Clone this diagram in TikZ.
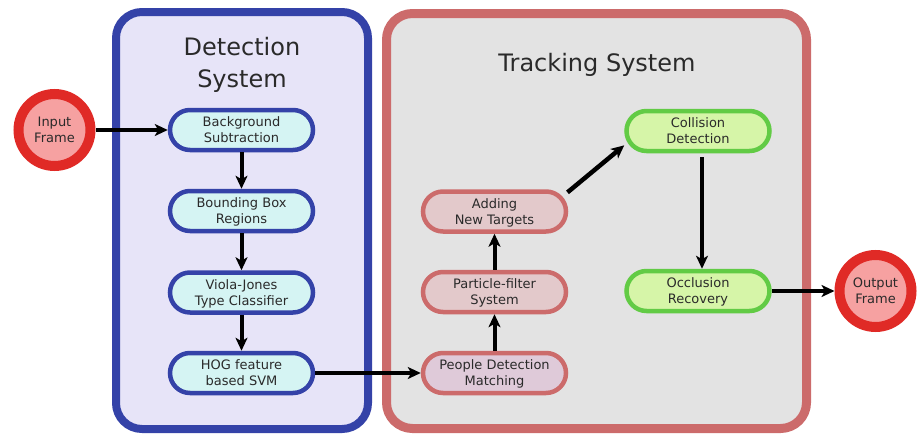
\documentclass[tikz,border=0pt]{standalone}
\usepackage{fontspec}
\setmainfont{DejaVu Sans}
\usetikzlibrary{arrows.meta}
\definecolor{detborder}{HTML}{3442A8}
\definecolor{detfill}{HTML}{E7E4F8}
\definecolor{detnode}{HTML}{D5F4F3}
\definecolor{trkborder}{HTML}{CC6B6B}
\definecolor{trkfill}{HTML}{E3E3E3}
\definecolor{trknode}{HTML}{E3C9CB}
\definecolor{matchnode}{HTML}{DFCAD9}
\definecolor{grnborder}{HTML}{62CB45}
\definecolor{grnnode}{HTML}{D6F5A8}
\definecolor{ioborder}{HTML}{E02A26}
\definecolor{iofill}{HTML}{F6A1A1}
\definecolor{txt}{HTML}{2A2A2A}
\tikzset{
  stage/.style={rectangle, rounded corners=20pt, minimum width=143pt,
    minimum height=40pt, line width=4.5pt, align=center, inner sep=0pt,
    text=txt, text depth=0pt,
    font=\fontsize{13pt}{16pt}\selectfont},
  detstage/.style={stage, draw=detborder, fill=detnode},
  trkstage/.style={stage, draw=trkborder, fill=trknode},
  grnstage/.style={stage, draw=grnborder, fill=grnnode},
  ioframe/.style={circle, minimum size=72pt, inner sep=0pt, line width=10pt,
    draw=ioborder, fill=iofill, align=center, text=txt, text depth=0pt,
    font=\fontsize{13pt}{16pt}\selectfont},
  title/.style={anchor=base, text=txt, inner sep=0pt,
    font=\fontsize{24pt}{32pt}\selectfont},
  flow/.style={line width=4pt, black,
    -{Stealth[length=13pt,width=12pt,inset=3.5pt]}},
}
\begin{document}
\begin{tikzpicture}[x=1pt,y=-1pt]
\useasboundingbox (0,0) rectangle (919,434);

% system panels
\draw[line width=8pt, draw=detborder, fill=detfill, rounded corners=26pt]
  (116,12) rectangle (368,429);
\draw[line width=9pt, draw=trkborder, fill=trkfill, rounded corners=26pt]
  (386.5,13.5) rectangle (806.5,428.5);

% panel titles
\node[title] (dettitle1) at (242,55) {Detection};
\node[title] (dettitle2) at (242,87) {System};
\node[title] (trktitle) at (597,71) {Tracking System};

% input and output frames
\node[ioframe] (input) at (54.5,130) {Input\\Frame};
\node[ioframe] (output) at (875.5,291) {Output\\Frame};

% detection stages
\node[detstage] (bgsub) at (241.5,130) {Background\\Subtraction};
\node[detstage] (bbox) at (241.5,211) {Bounding Box\\Regions};
\node[detstage] (viola) at (241.5,292.5) {Viola-Jones\\Type Classifier};
\node[detstage] (hog) at (241.5,373) {HOG feature\\based SVM};

% tracking stages
\node[stage, draw=trkborder, fill=matchnode] (match) at (494.5,373) {People Detection\\Matching};
\node[trkstage] (particle) at (494.5,292) {Particle-filter\\System};
\node[trkstage] (adding) at (494.5,211.5) {Adding\\New Targets};
\node[grnstage] (collision) at (698,131) {Collision\\Detection};
\node[grnstage] (occlusion) at (698,291) {Occlusion\\Recovery};

% data flow
\draw[flow, line width=3.5pt] (input) -- (bgsub);
\draw[flow] (bgsub) -- (bbox);
\draw[flow] (bbox) -- (viola);
\draw[flow] (viola) -- (hog);
\draw[flow, line width=4.5pt] (hog) -- (match);
\draw[flow] (match) -- (particle);
\draw[flow] (particle) -- (adding);
\draw[flow, line width=4.5pt, shorten <=-1pt] (adding.15) -- (collision.191);
\draw[flow, line width=4.5pt, shorten <=4pt] ([xshift=4pt]collision.south) -- ([xshift=4pt]occlusion.north);
\draw[flow, line width=3.5pt] (occlusion) -- (output);
\end{tikzpicture}
\end{document}
